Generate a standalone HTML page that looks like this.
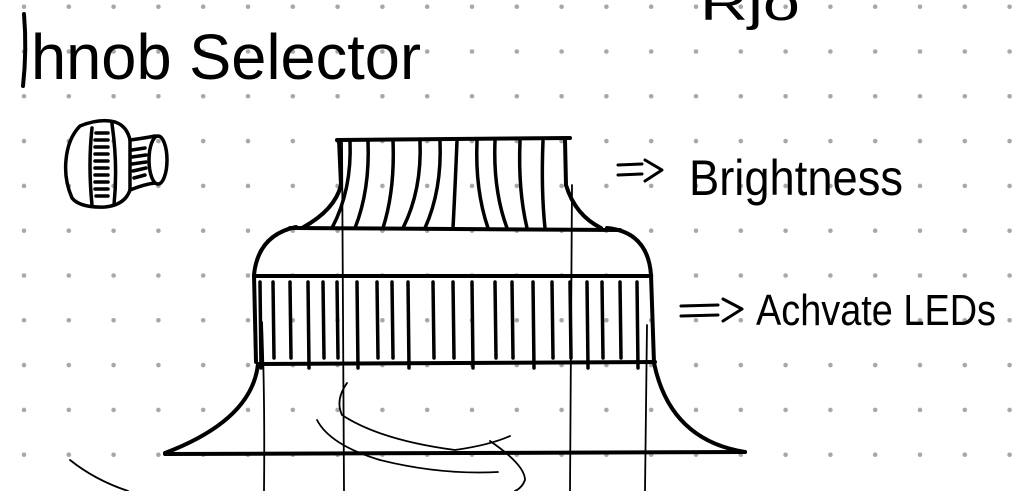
<!DOCTYPE html>
<html><head><meta charset="utf-8"><style>
html,body{margin:0;padding:0;background:#fff;}
svg{display:block;}
text{font-family:"Liberation Sans",sans-serif;fill:#000;}
</style></head><body>
<svg id="s" width="1025" height="491" viewBox="0 0 1025 491">
<g id="dots"></g>
<g fill="none" stroke="#000" stroke-linecap="round" stroke-linejoin="round">
 <!-- title -->
 <path d="M24 14 Q27 50 23 86" stroke-width="4"/>
 <text x="31" y="79" font-size="64" textLength="390" lengthAdjust="spacingAndGlyphs" stroke="none">hnob Selector</text>
 <text x="700" y="20" font-size="48" stroke="none" textLength="100" lengthAdjust="spacingAndGlyphs">Rjo</text>
 <!-- knob icon -->
 <g stroke-width="3.5">
  <path d="M80 126 Q100 118 115 122 Q127 126 130 140 L130 190 Q125 205 105 207 Q80 208 72 198 Q64 180 66 160 Q68 138 80 126 Z"/>
  <path d="M92 128 Q88 165 92 205"/>
  <path d="M112 124 Q118 165 114 205"/>
  <path d="M96 133 L108 133 M95 140 L108 140 M95 147 L108 147 M95 154 L108 154 M95 161 L108 161 M95 168 L108 168 M95 175 L108 175 M95 182 L108 182 M95 189 L108 189 M96 196 L108 196"/>
  <path d="M130 140 Q145 138 155 136 M130 190 Q145 184 155 183"/>
  <ellipse cx="158" cy="160" rx="9" ry="24"/>
  <path d="M132 150 L145 148 M132 157 L146 155 M132 164 L146 162 M133 171 L146 168 M134 178 L145 175"/>
 </g>
 <!-- labels -->
 <g>
  <path d="M618 165 L642 164 M618 175 L642 174 M645 160 L662 170 L645 181" stroke-width="3"/>
  <text x="689" y="195" font-size="50" textLength="214" lengthAdjust="spacingAndGlyphs" stroke="none">Brightness</text>
 </g>
 <g>
  <path d="M681 306 L718 305 M681 316 L718 315 M723 299 L742 309 L723 321" stroke-width="3"/>
  <text x="756" y="325" font-size="44" textLength="240" lengthAdjust="spacingAndGlyphs" stroke="none">Achvate LEDs</text>
 </g>
 <!-- main knob drawing -->
 <g stroke-width="4">
  <path d="M337 140 L570 138"/>
  <path d="M339 140 L341 185 Q335 210 302 228"/>
  <path d="M565 140 L566 185 Q575 215 601 228"/>
  <path d="M290 228 L620 230"/>
  <path d="M296 227 Q258 235 254 275 L256 362"/>
  <path d="M607 228 Q648 232 651 275 L654 363"/>
  <path d="M256 276 L648 276"/>
  <path d="M259 364 L655 362"/>
  <path d="M258 364 Q252 420 165 453"/>
  <path d="M654 363 Q670 440 745 452"/>
  <path d="M165 454 L745 452"/>
  <g id="capstripes" stroke-width="3.5"></g>
  <g id="bandstripes" stroke-width="3.5"></g>
 </g>
 <g stroke-width="1.8">
  <path d="M342 140 L344 491"/>
  <path d="M572 185 L570 491"/>
  <path d="M262 322 Q265 400 264 491"/>
  <path d="M647 325 L645 491"/>
  <path d="M347 383 Q335 400 342 415 Q380 440 455 450 Q490 445 510 436"/>
  <path d="M317 420 Q330 445 380 460 Q440 475 498 472"/>
  <path d="M490 441 Q525 465 525 480 Q522 488 515 491"/>
  <path d="M70 460 Q95 480 128 491"/>
 </g>
</g>
<script>
const capTopX=[350,368,393,420,440,457,477,495,520,543];
const capBotX=[332,355,383,403,425,453,488,507,527,545];
const bandX=[260,273,290,308,323,337,357,377,392,408,433,453,472,495,512,533,552,570,587,602,620,637];
const NS='http://www.w3.org/2000/svg';
const dots=document.getElementById('dots');
for(let r=0;r<12;r++)for(let c=0;c<23;c++){
 const d=document.createElementNS(NS,'circle');
 d.setAttribute('cx',24+c*44.8);d.setAttribute('cy',6.7+r*44.8);d.setAttribute('r',2.3);d.setAttribute('fill','#a8a8a8');
 
 
 dots.appendChild(d);
}
const cs=document.getElementById('capstripes');
capTopX.forEach((x,i)=>{
 const p=document.createElementNS(NS,'path');
 const b=capBotX[i];
 p.setAttribute('d',`M${x} 141 Q${x+(x<455?2:-2)} 190 ${b} 228`);
 
 
 cs.appendChild(p);
});
const bs=document.getElementById('bandstripes');
bandX.forEach((x,i)=>{
 const p=document.createElementNS(NS,'path');
 p.setAttribute('d',`M${x} 282 L${x+1} ${i%3==0?368:358}`);
 
 
 bs.appendChild(p);
});
</script>
</svg>
</body></html>
